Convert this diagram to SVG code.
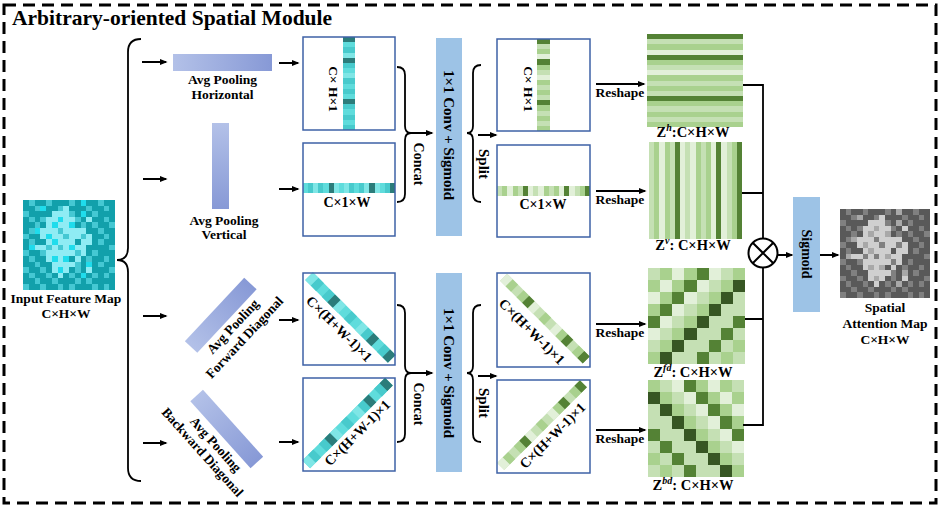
<svg xmlns="http://www.w3.org/2000/svg" xmlns:xlink="http://www.w3.org/1999/xlink" width="941" height="510" viewBox="0 0 941 510">
<style>
text{font-family:"Liberation Serif","Times New Roman",serif;font-weight:bold;fill:#000;text-anchor:middle}
.title{font-size:21.5px;text-anchor:start}
.t13{font-size:13.5px}
.t14{font-size:14px}
.t15{font-size:15px}
.zl{font-size:14.5px}
.sup{font-size:10px;font-style:italic}
.boxf{fill:#fff}
.boxs{fill:none;stroke:#3e62a6;stroke-width:1.5}
.ln{fill:none;stroke:#000;stroke-width:1.8}
.ar{fill:none;stroke:#000;stroke-width:2;marker-end:url(#ah)}
.conv{fill:#9dc3e6}
.ga{fill:#375623}.gb{fill:#548235}.gm{fill:#a9d18e}.gl{fill:#c5e0b4}.gw{fill:#e2f0d9}
</style>
<defs>
<marker id="ah" viewBox="0 0 10 10" refX="8" refY="5" markerWidth="8" markerHeight="8" markerUnits="userSpaceOnUse" orient="auto"><path d="M0,1 L10,5 L0,9 z" fill="#000"/></marker>
<linearGradient id="pg" x1="0" y1="0" x2="1" y2="0"><stop offset="0" stop-color="#b3c1e8"/><stop offset="1" stop-color="#8799d6"/></linearGradient>
<linearGradient id="pgv" x1="0" y1="0" x2="0" y2="1"><stop offset="0" stop-color="#b3c1e8"/><stop offset="1" stop-color="#8799d6"/></linearGradient>
<path id="m1" d="M1 0h1v1h-1zM4 0h1v1h-1zM8 0h1v1h-1zM13 0h1v1h-1zM2 1h2v1h-2zM6 1h1v1h-1zM11 1h1v1h-1zM14 1h1v1h-1zM0 2h1v1h-1zM8 2h1v1h-1zM12 2h1v1h-1zM1 3h1v1h-1zM3 3h1v1h-1zM9 3h1v1h-1zM14 3h1v1h-1zM2 4h1v1h-1zM10 4h1v1h-1zM12 4h1v1h-1zM15 4h1v1h-1zM1 5h1v1h-1zM6 5h1v1h-1zM13 5h1v1h-1zM0 6h1v1h-1zM10 6h1v1h-1zM14 6h1v1h-1zM1 7h1v1h-1zM13 7h1v1h-1zM6 8h1v1h-1zM15 8h1v1h-1zM0 9h1v1h-1zM3 9h1v1h-1zM12 9h1v1h-1zM1 10h1v1h-1zM11 10h1v1h-1zM14 10h1v1h-1zM2 11h1v1h-1zM9 11h1v1h-1zM13 11h1v1h-1zM0 12h1v1h-1zM3 12h1v1h-1zM9 12h1v1h-1zM15 12h1v1h-1zM1 13h1v1h-1zM4 13h1v1h-1zM8 13h1v1h-1zM12 13h1v1h-1zM14 13h1v1h-1zM2 14h1v1h-1zM5 14h1v1h-1zM9 14h1v1h-1zM11 14h1v1h-1zM0 15h1v1h-1zM3 15h1v1h-1zM6 15h1v1h-1zM8 15h1v1h-1zM12 15h1v1h-1zM14 15h1v1h-1zM7 6h1v1h-1zM4 8h1v1h-1zM9 9h1v1h-1z"/>
<path id="m2" d="M10 0h1v1h-1zM6 3h1v1h-1zM5 4h1v1h-1zM4 6h1v1h-1zM5 10h1v1h-1zM6 12h1v1h-1zM2 5h1v1h-1zM1 8h1v1h-1zM11 11h1v1h-1zM10 13h1v1h-1zM10 2h1v1h-1zM8 4h1v1h-1zM5 7h1v1h-1zM8 8h1v1h-1zM7 10h1v1h-1zM3 1h1v1h-1z"/>
<path id="m3" d="M7 1h1v1h-1zM5 2h3v1h-3zM4 3h2v1h-2zM7 3h2v1h-2zM11 3h1v1h-1zM4 4h1v1h-1zM6 4h2v1h-2zM3 5h3v1h-3zM7 5h4v1h-4zM3 6h1v1h-1zM5 6h2v1h-2zM8 6h2v1h-2zM11 6h1v1h-1zM4 7h1v1h-1zM6 7h3v1h-3zM10 7h2v1h-2zM2 8h2v1h-2zM5 8h1v1h-1zM7 8h1v1h-1zM9 8h2v1h-2zM4 9h5v1h-5zM10 9h1v1h-1zM4 10h1v1h-1zM6 10h1v1h-1zM9 10h1v1h-1zM5 11h4v1h-4zM5 12h1v1h-1zM7 12h1v1h-1zM11 12h1v1h-1zM6 13h1v1h-1z"/>
<path id="hb" d="M0 0h1v1h-1zM0 4h1v1h-1zM0 12h1v1h-1z"/>
<path id="hm" d="M0 2h1v1h-1zM0 5h1v1h-1zM0 8h1v1h-1zM0 10h1v1h-1zM0 13h1v1h-1zM0 15h1v1h-1zM0 17h1v1h-1z"/>
<path id="hw" d="M0 3h1v1h-1zM0 7h1v1h-1z"/>
<path id="vb" d="M5 0h1v1h-1zM13 0h1v1h-1zM17 0h1v1h-1z"/>
<path id="vm" d="M1 0h1v1h-1zM3 0h1v1h-1zM9 0h1v1h-1zM11 0h1v1h-1zM16 0h1v1h-1z"/>
<path id="vw" d="M2 0h1v1h-1zM6 0h1v1h-1zM8 0h1v1h-1zM12 0h1v1h-1zM14 0h1v1h-1z"/>
<path id="db" d="M4 0h1v1h-1zM11 0h1v1h-1zM14 0h1v1h-1z"/>
<path id="dm" d="M1 0h1v1h-1zM3 0h1v1h-1zM7 0h1v1h-1zM10 0h1v1h-1zM13 0h1v1h-1z"/>
<path id="dw" d="M0 0h1v1h-1zM5 0h1v1h-1zM9 0h1v1h-1z"/>
</defs>

<rect x="4" y="5" width="932" height="498" fill="none" stroke="#000" stroke-width="3" stroke-dasharray="12 7"/>
<text class="title" x="12" y="25">Arbitrary-oriented Spatial Module</text>

<g id="input-map">
<g transform="translate(23,200) scale(5.75,5.6)" shape-rendering="crispEdges">
<rect width="16" height="16" fill="#12a0ab"/>
<use href="#m1" fill="#45c8d3"/><use href="#m2" fill="#1fdcec"/><use href="#m3" fill="#8fecf4"/>
</g>
<text class="t13" x="66" y="303">Input Feature Map</text>
<text class="t13" x="66" y="318">C×H×W</text>
</g>

<g id="pool-h">
<rect x="173" y="54" width="99" height="17" fill="url(#pg)"/>
<text class="t13" x="222.5" y="84">Avg Pooling</text>
<text class="t13" x="222.5" y="99">Horizontal</text>
</g>
<g id="pool-v">
<rect x="212" y="123" width="17" height="86" fill="url(#pgv)"/>
<text class="t13" x="224" y="225">Avg Pooling</text>
<text class="t13" x="224" y="239">Vertical</text>
</g>
<g id="pool-fd" transform="translate(220.75,315.25) rotate(-47)">
<rect x="-43.5" y="-8.5" width="87" height="17" fill="url(#pg)"/>
<text class="t13" x="0" y="21">Avg Pooling</text>
<text class="t13" x="0" y="37">Forward Diagonal</text>
</g>
<g id="pool-bd" transform="translate(226.75,429) rotate(48)">
<rect x="-45" y="-8.5" width="90" height="17" fill="url(#pg)"/>
<text class="t13" x="4" y="23">Avg Pooling</text>
<text class="t13" x="1" y="38">Backward Diagonal</text>
</g>

<g id="box-h">
<rect class="boxf" x="303" y="37" width="92" height="93"/>
<g transform="translate(343,37) scale(12,5.1667)" shape-rendering="crispEdges">
<rect width="1" height="18" fill="#5fdcdc"/><use href="#hm" fill="#48cacc"/><use href="#hw" fill="#7fe6e6"/><use href="#hb" fill="#2b7c7a"/>
</g>
<rect class="boxs" x="303" y="37" width="92" height="93"/>
<text class="t13" transform="translate(333,89) rotate(90)" y="4.5">C× H×1</text>
</g>
<g id="box-v">
<rect class="boxf" x="303" y="143" width="92" height="93"/>
<g transform="translate(303,183) scale(5.111,10)" shape-rendering="crispEdges">
<rect width="18" height="1" fill="#5fdcdc"/><use href="#vm" fill="#48cacc"/><use href="#vw" fill="#7fe6e6"/><use href="#vb" fill="#2b7c7a"/>
</g>
<rect class="boxs" x="303" y="143" width="92" height="93"/>
<text class="t14" x="347" y="207">C×1×W</text>
</g>
<g id="box-fd">
<rect class="boxf" x="303" y="273" width="92" height="92"/>
<g transform="translate(349,319) rotate(45)">
<g transform="translate(-58.5,-7.5) scale(7.8,11)">
<rect width="15" height="1" fill="#5fdcdc"/><use href="#dm" fill="#48cacc"/><use href="#dw" fill="#7fe6e6"/><use href="#db" fill="#2b7c7a"/>
</g>
<text class="t14" x="0" y="18.5">C×(H+W-1)×1</text>
</g>
<rect class="boxs" x="303" y="273" width="92" height="92"/>
</g>
<g id="box-bd">
<rect class="boxf" x="303" y="378" width="92" height="93"/>
<g transform="translate(349,424.5) rotate(-45)">
<g transform="translate(-58.5,-7.5) scale(7.8,11)">
<rect width="15" height="1" fill="#5fdcdc"/><use href="#dm" fill="#48cacc"/><use href="#dw" fill="#7fe6e6"/><use href="#db" fill="#2b7c7a"/>
</g>
<text class="t14" x="0" y="16.5">C×(H+W-1)×1</text>
</g>
<rect class="boxs" x="303" y="378" width="92" height="93"/>
</g>

<g id="conv-top">
<rect class="conv" x="436" y="38" width="26" height="198"/>
<text class="t15" transform="translate(449,135) rotate(90)" y="5">1×1 Conv + Sigmoid</text>
</g>
<g id="conv-bottom">
<rect class="conv" x="436" y="273" width="26" height="199"/>
<text class="t15" transform="translate(449,373) rotate(90)" y="5">1×1 Conv + Sigmoid</text>
</g>

<g id="split-h">
<rect class="boxf" x="497" y="39" width="93" height="92"/>
<g transform="translate(537,39) scale(13,5.111)" shape-rendering="crispEdges">
<rect width="1" height="18" class="gl"/><use href="#hm" class="gm"/><use href="#hw" class="gw"/><use href="#hb" class="gb"/>
</g>
<rect class="boxs" x="497" y="39" width="93" height="92"/>
<text class="t13" transform="translate(528,89) rotate(90)" y="4.5">C× H×1</text>
</g>
<g id="split-v">
<rect class="boxf" x="497" y="145" width="93" height="92"/>
<g transform="translate(497,186) scale(5.1667,10)" shape-rendering="crispEdges">
<rect width="18" height="1" class="gl"/><use href="#vm" class="gm"/><use href="#vw" class="gw"/><use href="#vb" class="gb"/>
</g>
<rect class="boxs" x="497" y="145" width="93" height="92"/>
<text class="t14" x="543" y="209">C×1×W</text>
</g>
<g id="split-fd">
<rect class="boxf" x="497" y="273" width="93" height="94"/>
<g transform="translate(543.5,320) rotate(45)">
<g transform="translate(-58.5,-7) scale(7.8,10)">
<rect width="15" height="1" class="gl"/><use href="#dm" class="gm"/><use href="#dw" class="gw"/><use href="#db" class="gb"/>
</g>
<text class="t14" x="0" y="21">C×(H+W-1)×1</text>
</g>
<rect class="boxs" x="497" y="273" width="93" height="94"/>
</g>
<g id="split-bd">
<rect class="boxf" x="497" y="380" width="93" height="93"/>
<g transform="translate(543.5,426.5) rotate(-45)">
<g transform="translate(-58.5,-7) scale(7.8,10)">
<rect width="15" height="1" class="gl"/><use href="#dm" class="gm"/><use href="#dw" class="gw"/><use href="#db" class="gb"/>
</g>
<text class="t14" x="0" y="17.5">C×(H+W-1)×1</text>
</g>
<rect class="boxs" x="497" y="380" width="93" height="93"/>
</g>

<g id="z-h">
<g transform="translate(647,34) scale(96,5.1667)" shape-rendering="crispEdges">
<rect width="1" height="18" class="gl"/><use href="#hm" class="gm"/><use href="#hw" class="gw"/><use href="#hb" class="gb"/>
</g>
<text class="zl" x="693" y="137">Z<tspan class="sup" dy="-6">h</tspan><tspan dy="6">:C×H×W</tspan></text>
</g>
<g id="z-v">
<g transform="translate(649,142) scale(5.1667,97)" shape-rendering="crispEdges">
<rect width="18" height="1" class="gl"/><use href="#vm" class="gm"/><use href="#vw" class="gw"/><use href="#vb" class="gb"/>
</g>
<text class="zl" x="693" y="250">Z<tspan class="sup" dy="-6">v</tspan><tspan dy="6">: C×H×W</tspan></text>
</g>
<g id="z-fd">
<g transform="translate(648,268) scale(12.125,12)" shape-rendering="crispEdges">
<rect width="8" height="8" class="gl"/>
<path class="gm" d="M1 0h1v1h-1zM3 0h1v1h-1zM7 0h1v1h-1zM0 1h1v1h-1zM2 1h1v1h-1zM6 1h1v1h-1zM1 2h1v1h-1zM5 2h1v1h-1zM0 3h1v1h-1zM4 3h1v1h-1zM3 4h1v1h-1zM2 5h1v1h-1zM1 6h1v1h-1zM7 6h1v1h-1zM0 7h1v1h-1zM6 7h1v1h-1z"/>
<path class="gw" d="M2 0h1v1h-1zM5 0h1v1h-1zM1 1h1v1h-1zM4 1h1v1h-1zM0 2h1v1h-1zM3 2h1v1h-1zM2 3h1v1h-1zM1 4h1v1h-1zM0 5h1v1h-1z"/>
<path class="gb" d="M4 0h1v1h-1zM3 1h1v1h-1zM2 2h1v1h-1zM1 3h1v1h-1zM0 4h1v1h-1zM7 4h1v1h-1zM6 5h1v1h-1zM5 6h1v1h-1zM4 7h1v1h-1z"/>
<path class="ga" d="M7 1h1v1h-1zM6 2h1v1h-1zM5 3h1v1h-1zM4 4h1v1h-1zM3 5h1v1h-1zM2 6h1v1h-1zM1 7h1v1h-1z"/>
</g>
<text class="zl" x="693" y="377">Z<tspan class="sup" dy="-6">fd</tspan><tspan dy="6">: C×H×W</tspan></text>
</g>
<g id="z-bd">
<g transform="translate(648,380) scale(12,12.125)" shape-rendering="crispEdges">
<rect width="8" height="8" class="gl"/>
<path class="gm" d="M0 0h1v1h-1zM4 0h1v1h-1zM6 0h1v1h-1zM1 1h1v1h-1zM5 1h1v1h-1zM7 1h1v1h-1zM2 2h1v1h-1zM6 2h1v1h-1zM3 3h1v1h-1zM7 3h1v1h-1zM4 4h1v1h-1zM5 5h1v1h-1zM0 6h1v1h-1zM6 6h1v1h-1zM1 7h1v1h-1zM7 7h1v1h-1z"/>
<path class="gw" d="M2 0h1v1h-1zM5 0h1v1h-1zM3 1h1v1h-1zM6 1h1v1h-1zM4 2h1v1h-1zM7 2h1v1h-1zM5 3h1v1h-1zM6 4h1v1h-1zM7 5h1v1h-1z"/>
<path class="gb" d="M3 0h1v1h-1zM4 1h1v1h-1zM5 2h1v1h-1zM6 3h1v1h-1zM0 4h1v1h-1zM7 4h1v1h-1zM1 5h1v1h-1zM2 6h1v1h-1zM3 7h1v1h-1z"/>
<path class="ga" d="M0 1h1v1h-1zM1 2h1v1h-1zM2 3h1v1h-1zM3 4h1v1h-1zM4 5h1v1h-1zM5 6h1v1h-1zM6 7h1v1h-1z"/>
</g>
<text class="zl" x="693" y="490">Z<tspan class="sup" dy="-6">bd</tspan><tspan dy="6">: C×H×W</tspan></text>
</g>

<g id="connectors">
<path class="ln" d="M141,39 Q128,39 128,52 V248 Q128,260 117,260 Q128,260 128,272 V468 Q128,481 141,481"/>
<path class="ln" d="M397,67 Q405,67 405,75 V126 Q405,133 411,133 Q405,133 405,140 V194 Q405,202 397,202"/>
<path class="ln" d="M397,305 Q405,305 405,313 V366 Q405,373 411,373 Q405,373 405,380 V434 Q405,442 397,442"/>
<path class="ln" d="M481,65 Q473,65 473,73 V126 Q473,133 467,133 Q473,133 473,140 V194 Q473,202 481,202"/>
<path class="ln" d="M481,305 Q473,305 473,313 V366 Q473,373 467,373 Q473,373 473,380 V434 Q473,442 481,442"/>
<line class="ar" x1="142" y1="62" x2="166" y2="62"/>
<line class="ar" x1="143" y1="179" x2="166" y2="179"/>
<line class="ar" x1="143" y1="316" x2="166" y2="316"/>
<line class="ar" x1="143" y1="443" x2="166" y2="443"/>
<line class="ar" x1="279" y1="63" x2="298" y2="63"/>
<line class="ar" x1="279" y1="189" x2="298" y2="189"/>
<line class="ar" x1="279" y1="320" x2="298" y2="320"/>
<line class="ar" x1="279" y1="442" x2="298" y2="442"/>
<line class="ar" x1="411" y1="133" x2="432" y2="133"/>
<line class="ar" x1="411" y1="373" x2="432" y2="373"/>
<line class="ar" x1="478" y1="135" x2="496" y2="135"/>
<line class="ar" x1="478" y1="376" x2="496" y2="376"/>
<line class="ar" x1="596" y1="84" x2="644" y2="84"/>
<line class="ar" x1="596" y1="191" x2="645" y2="191"/>
<line class="ar" x1="596" y1="324" x2="645" y2="324"/>
<line class="ar" x1="596" y1="430" x2="645" y2="430"/>
<text class="t13" x="620" y="97">Reshape</text>
<text class="t13" x="620" y="204">Reshape</text>
<text class="t13" x="620" y="337">Reshape</text>
<text class="t13" x="620" y="443">Reshape</text>
<text class="t14" transform="translate(418.5,164) rotate(90)" y="5">Concat</text>
<text class="t14" transform="translate(418.5,404) rotate(90)" y="5">Concat</text>
<text class="t15" transform="translate(483.5,164) rotate(90)" y="5">Split</text>
<text class="t15" transform="translate(483.5,403) rotate(90)" y="5">Split</text>
<path class="ln" stroke-width="2" d="M743,85 H763 V238.5 M742,193 H763 M745,319 H763 M743,425 H763 V267.5"/>
<line class="ar" x1="777.5" y1="255" x2="792" y2="255"/>
<line class="ar" x1="820" y1="255" x2="838" y2="255"/>
</g>

<g id="multiply">
<circle cx="763" cy="253" r="14.5" fill="#fff" stroke="#000" stroke-width="2"/>
<path d="M752.7,242.7 L773.3,263.3 M773.3,242.7 L752.7,263.3" stroke="#000" stroke-width="2"/>
</g>

<g id="sigmoid">
<rect class="conv" x="793" y="197" width="27" height="115"/>
<text class="t14" transform="translate(806.5,254) rotate(90)" y="5">Sigmoid</text>
</g>

<g id="output-map">
<g transform="translate(840,209) scale(5.625,5.5625)" shape-rendering="crispEdges">
<rect width="16" height="16" fill="#595959"/>
<use href="#m1" fill="#808080"/><use href="#m2" fill="#a8a8a8"/><use href="#m3" fill="#cfcfcf"/>
</g>
<text class="t13" x="885" y="312">Spatial</text>
<text class="t13" x="885" y="328">Attention Map</text>
<text class="t13" x="885" y="344">C×H×W</text>
</g>
</svg>
